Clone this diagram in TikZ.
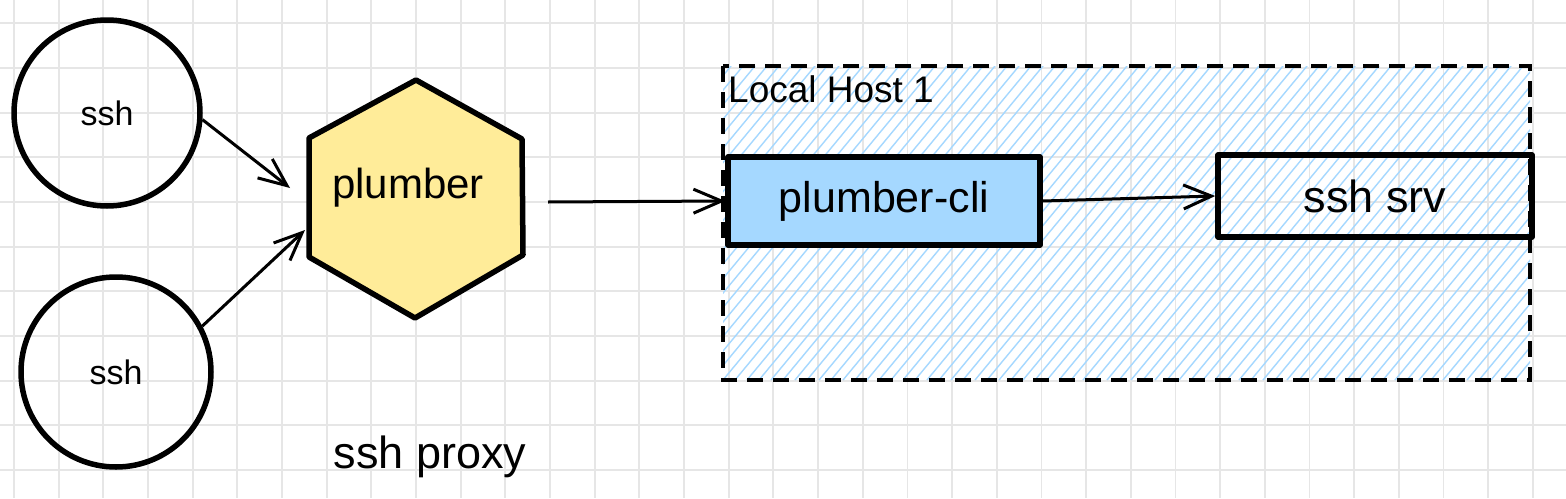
\documentclass[tikz,border=0pt]{standalone}
\usepackage{fontspec}
\setmainfont{Liberation Sans}
\usetikzlibrary{arrows.meta}
\definecolor{gridc}{HTML}{E6E6E6}
\definecolor{bluef}{HTML}{A5D8FF}
\definecolor{yellowf}{HTML}{FFEC99}
\newcommand{\fs}[1]{\fontsize{#1}{#1}\selectfont}
\begin{document}
\begin{tikzpicture}[x=1pt,y=-1pt,
  shapeline/.style={line width=5.5pt, line join=round},
  conn/.style={line width=3pt, -{Straight Barb[length=28pt,width=24pt]}},
  gridline/.style={gridc, line width=1.8pt},
  hatch/.style={bluef, line width=1.4pt}]
\fill[white] (0,0) rectangle (1566,498);
\useasboundingbox (0,0) rectangle (1566,498);
% grid
\foreach \k in {0,...,34} \draw[gridline] ({14+44.67*\k},0) -- ({14+44.67*\k},498);
\foreach \k in {0,...,10} \draw[gridline] (0,{23.3+44.67*\k}) -- (1566,{23.3+44.67*\k});
% hatch fill of the local host frame
\begin{scope}
\clip (723,66) rectangle (1530,380);
\foreach \k in {-28,...,68} \draw[hatch] ({723+12*\k},380) -- ({723+12*\k+260},66);
\end{scope}
\draw[black, line width=3.5pt, dash pattern=on 16pt off 10pt] (723,66) rectangle (1530,380);
\node[anchor=west, inner sep=0, font=\fs{37}] (lh) at (728,89) {Local Host 1};
% circles
\node[circle, draw, shapeline, minimum size=186pt, inner sep=0, font=\fs{34}] (c1) at (107,113) {ssh};
\node[circle, draw, shapeline, minimum size=190pt, inner sep=0, font=\fs{34}] (c2) at (116,372) {ssh};
% hexagon
\filldraw[fill=yellowf, shapeline] (416,80) -- (522,139) -- (523,255) -- (415,318) -- (309,257) -- (309,138) -- cycle;
\node[font=\fs{42}, inner sep=0] (hex) at (408,188) {plumber};
\coordinate (h1) at (290,188);
\coordinate (h2) at (305,230);
\coordinate (h3) at (548,202);
% boxes
\node[draw, shapeline, fill=bluef, minimum width=312pt, minimum height=88pt, inner sep=0, font=\fs{43}] (pcli) at (884,201) {plumber-cli};
\node[draw, shapeline, minimum width=314pt, minimum height=82pt, inner sep=0, font=\fs{45}] (srv) at (1375,196) {ssh srv};
\node[font=\fs{45}, inner sep=0] (proxy) at (430,457) {ssh proxy};
% connectors
\draw[conn] (c1.-4) -- (h1);
\draw[conn] (c2.28) -- (h2);
\draw[conn] (h3) -- (pcli.west);
\draw[conn] (pcli.east) -- (srv.west);
\end{tikzpicture}
\end{document}
